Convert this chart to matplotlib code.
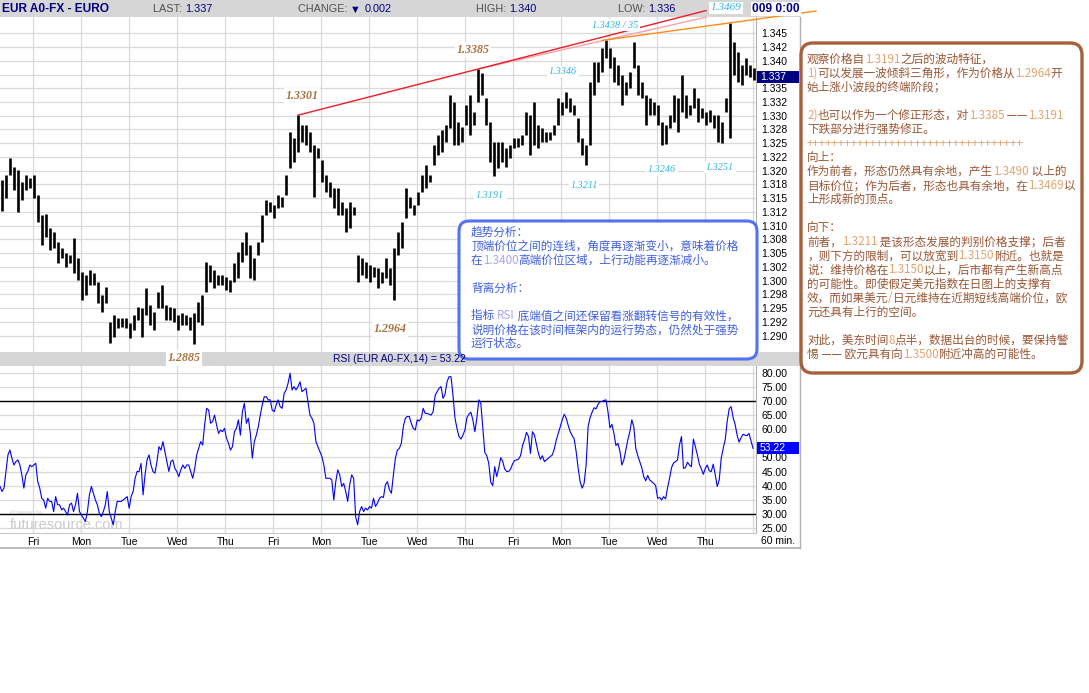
import re
import numpy as np
import matplotlib
matplotlib.use("Agg")
import matplotlib.pyplot as plt
from matplotlib.patches import Rectangle, FancyBboxPatch
from matplotlib.text import Annotation
import matplotlib.transforms as mtransforms

# ---------------- data ----------------
PRICE_HIGH = [1.3183, 1.3192, 1.3223, 1.3207, 1.3201, 1.3179, 1.3192, 1.3187, 1.3192, 1.3156,
              1.3119, 1.3121, 1.3096, 1.3088, 1.3070, 1.3059, 1.3050, 1.3046, 1.3077, 1.3041,
              1.3016, 1.3010, 1.3019, 1.3014, 1.2997, 1.2974, 1.2988, 1.2925, 1.2937, 1.2932,
              1.2932, 1.2932, 1.2923, 1.2937, 1.2952, 1.2950, 1.2986, 1.2955, 1.2943, 1.2979,
              1.2992, 1.2955, 1.2952, 1.2950, 1.2937, 1.2941, 1.2937, 1.2934, 1.2941, 1.2961,
              1.2974, 1.3034, 1.3028, 1.3019, 1.3010, 1.3010, 1.3006, 1.3001, 1.3032, 1.3052,
              1.3070, 1.3088, 1.3065, 1.3041, 1.3070, 1.3119, 1.3147, 1.3143, 1.3138, 1.3156,
              1.3152, 1.3192, 1.3270, 1.3259, 1.3301, 1.3283, 1.3283, 1.3270, 1.3247, 1.3241,
              1.3219, 1.3192, 1.3179, 1.3168, 1.3168, 1.3143, 1.3132, 1.3143, 1.3134, 1.3046,
              1.3041, 1.3034, 1.3028, 1.3025, 1.3023, 1.3016, 1.3041, 1.3023, 1.3059, 1.3088,
              1.3107, 1.3168, 1.3152, 1.3138, 1.3161, 1.3192, 1.3210, 1.3192, 1.3247, 1.3265,
              1.3274, 1.3283, 1.3338, 1.3325, 1.3289, 1.3280, 1.3320, 1.3338, 1.3307, 1.3385,
              1.3378, 1.3332, 1.3289, 1.3252, 1.3252, 1.3252, 1.3241, 1.3247, 1.3259, 1.3259,
              1.3265, 1.3307, 1.3301, 1.3325, 1.3283, 1.3278, 1.3270, 1.3270, 1.3283, 1.3332,
              1.3325, 1.3343, 1.3332, 1.3320, 1.3296, 1.3259, 1.3247, 1.3361, 1.3398, 1.3398,
              1.3423, 1.3438, 1.3423, 1.3407, 1.3392, 1.3374, 1.3361, 1.3380, 1.3435, 1.3392,
              1.3361, 1.3338, 1.3332, 1.3325, 1.3320, 1.3289, 1.3283, 1.3301, 1.3338, 1.3332,
              1.3374, 1.3338, 1.3320, 1.3350, 1.3332, 1.3314, 1.3307, 1.3310, 1.3301, 1.3301,
              1.3289, 1.3332, 1.3469, 1.3434, 1.3416, 1.3392, 1.3405, 1.3392, 1.3387]
PRICE_LOW = [1.3127, 1.3150, 1.3192, 1.3165, 1.3125, 1.3147, 1.3165, 1.3168, 1.3150, 1.3107,
             1.3065, 1.3079, 1.3056, 1.3059, 1.3032, 1.3041, 1.3025, 1.3032, 1.3014, 1.3001,
             1.2965, 1.2974, 1.2992, 1.2992, 1.2959, 1.2943, 1.2959, 1.2886, 1.2897, 1.2914,
             1.2915, 1.2914, 1.2895, 1.2910, 1.2928, 1.2897, 1.2937, 1.2919, 1.2910, 1.2950,
             1.2950, 1.2928, 1.2928, 1.2925, 1.2910, 1.2919, 1.2919, 1.2910, 1.2885, 1.2925,
             1.2919, 1.2979, 1.2997, 1.2986, 1.2992, 1.2992, 1.2983, 1.2979, 1.2997, 1.3005,
             1.3034, 1.3046, 1.3005, 1.3001, 1.3046, 1.3070, 1.3119, 1.3125, 1.3114, 1.3132,
             1.3134, 1.3156, 1.3205, 1.3216, 1.3234, 1.3252, 1.3247, 1.3234, 1.3152, 1.3223,
             1.3179, 1.3161, 1.3152, 1.3132, 1.3119, 1.3119, 1.3088, 1.3096, 1.3119, 1.2997,
             1.3010, 1.3005, 1.2997, 1.3006, 1.2986, 1.2996, 1.3005, 1.2992, 1.2964, 1.3046,
             1.3059, 1.3114, 1.3132, 1.3119, 1.3138, 1.3161, 1.3168, 1.3179, 1.3210, 1.3228,
             1.3234, 1.3252, 1.3278, 1.3247, 1.3247, 1.3252, 1.3283, 1.3265, 1.3283, 1.3325,
             1.3338, 1.3283, 1.3216, 1.3191, 1.3205, 1.3216, 1.3207, 1.3223, 1.3241, 1.3243,
             1.3247, 1.3265, 1.3228, 1.3247, 1.3241, 1.3252, 1.3252, 1.3256, 1.3265, 1.3283,
             1.3301, 1.3314, 1.3307, 1.3301, 1.3252, 1.3228, 1.3211, 1.3247, 1.3338, 1.3361,
             1.3380, 1.3405, 1.3387, 1.3361, 1.3356, 1.3320, 1.3338, 1.3350, 1.3387, 1.3338,
             1.3332, 1.3283, 1.3301, 1.3301, 1.3283, 1.3246, 1.3248, 1.3278, 1.3289, 1.3270,
             1.3307, 1.3296, 1.3301, 1.3314, 1.3289, 1.3296, 1.3283, 1.3289, 1.3278, 1.3252,
             1.3251, 1.3307, 1.3259, 1.3374, 1.3361, 1.3356, 1.3374, 1.3370, 1.3365]

RSI = [39.7, 37.9, 39.1, 45.0, 50.9, 52.6, 49.7, 47.3, 48.5, 49.1, 47.3, 43.8, 39.1, 43.8, 45.0, 47.3, 46.7, 47.3, 47.9, 41.4,
       39.1, 35.5, 34.9, 32.0, 35.5, 34.4, 34.4, 30.8, 36.1, 33.2, 33.2, 31.4, 32.0, 30.8, 29.6, 33.2, 33.8, 30.8, 33.2, 37.3,
       30.8, 29.6, 28.4, 27.3, 30.8, 36.7, 39.7, 37.3, 34.9, 33.2, 30.2, 29.0, 30.8, 33.2, 37.9, 30.8, 28.4, 26.1, 30.8, 34.4,
       34.4, 34.4, 34.9, 35.5, 36.1, 32.0, 36.1, 37.9, 42.6, 45.0, 45.0, 47.9, 36.7, 43.8, 49.1, 50.9, 47.3, 45.0, 44.4, 48.5,
       53.8, 52.6, 55.6, 52.0, 48.5, 45.0, 48.5, 49.1, 46.1, 45.0, 43.2, 45.6, 47.3, 46.1, 47.3, 47.3, 45.0, 42.6, 46.1, 50.9,
       53.2, 55.6, 54.4, 61.5, 67.4, 66.8, 62.1, 62.7, 65.0, 61.5, 58.5, 59.7, 59.1, 60.3, 56.8, 55.0, 52.6, 53.8, 59.1, 60.3,
       63.3, 57.9, 66.2, 69.2, 62.1, 63.9, 58.5, 49.7, 55.6, 57.9, 60.9, 65.0, 68.6, 71.5, 71.5, 70.4, 70.4, 66.8, 66.2, 68.6,
       70.4, 68.0, 67.4, 72.7, 73.9, 76.3, 79.8, 73.9, 75.1, 73.9, 75.1, 76.8, 73.3, 73.9, 74.5, 69.8, 65.0, 63.9, 62.1, 55.6,
       53.8, 52.0, 50.3, 47.3, 42.6, 42.6, 42.6, 42.0, 34.9, 41.4, 45.6, 43.8, 39.7, 40.8, 37.9, 34.4, 40.3, 43.8, 42.6, 29.0,
       26.1, 30.8, 32.6, 30.8, 32.0, 31.4, 32.6, 32.0, 35.5, 32.6, 33.8, 35.5,
       36.1, 35.8, 40.3, 41.4, 38.5, 37.3, 43.8, 49.7, 52.6, 53.2, 55.0, 60.9, 63.9, 64.5, 64.5, 62.1, 60.3, 59.7, 63.3, 62.9,
       63.9, 67.4, 65.6, 65.6, 65.3, 65.0, 66.2, 71.9, 73.3, 74.5, 75.1, 70.9, 72.4, 76.8, 78.6, 78.6, 72.1, 63.9, 60.3, 57.4,
       56.5, 57.9, 59.7, 64.1, 65.3, 66.0, 63.3, 59.1, 63.9, 70.4, 69.2, 60.3, 51.8, 50.6, 47.9, 41.2, 40.0, 46.7, 43.2, 46.1,
       49.9, 48.7, 45.9, 45.0, 45.0, 45.9, 47.7, 48.9, 49.1, 49.4, 50.6, 54.2, 56.2, 58.9, 57.4, 51.4, 59.1, 57.9, 54.7, 51.4,
       49.3, 50.6, 48.5, 49.1, 49.7, 50.3, 50.9, 53.0, 56.2, 58.5, 60.9, 63.3, 65.3, 63.9, 61.3, 59.1, 57.7, 56.5, 52.0, 46.1,
       41.4, 39.1, 40.8, 47.3, 60.9, 64.1, 66.0, 67.6, 67.2, 68.8, 69.8, 69.8, 70.2, 70.4, 66.2, 60.5, 61.7, 58.5, 54.2, 55.0,
       52.3, 47.3, 49.1, 52.6, 56.2, 59.1, 63.3, 60.9, 53.2, 50.6, 48.5, 46.4, 43.2, 41.7, 43.6, 42.0, 41.4, 40.8, 40.0, 35.5,
       35.8, 34.9, 36.1, 35.3, 39.3, 42.6, 46.4, 48.0, 48.5, 49.1, 54.4, 57.4, 46.1, 46.4, 48.3, 47.3, 46.7, 56.5, 53.8, 50.9,
       47.6, 45.9, 44.0, 46.1, 47.3, 45.2, 45.0, 47.6, 43.8, 39.7, 42.0, 49.7, 53.2, 56.2, 62.7, 67.2, 68.0, 64.1, 61.7, 57.9,
       55.4, 57.0, 58.2, 57.9, 57.7, 58.5, 55.8, 53.22]

DAY_LABELS = ['Fri', 'Mon', 'Tue', 'Wed', 'Thu', 'Fri', 'Mon', 'Tue', 'Wed', 'Thu',
              'Fri', 'Mon', 'Tue', 'Wed', 'Thu']
PRICE_TICKS = [1.290, 1.2925, 1.295, 1.2975, 1.300, 1.3025, 1.305, 1.3075, 1.310, 1.3125,
               1.315, 1.3175, 1.320, 1.3225, 1.325, 1.3275, 1.330, 1.3325, 1.335, 1.3375,
               1.340, 1.3425, 1.345]
PRICE_TICK_LABELS = ['1.290', '1.292', '1.295', '1.298', '1.300', '1.302', '1.305', '1.308',
                     '1.310', '1.312', '1.315', '1.318', '1.320', '1.322', '1.325', '1.328',
                     '1.330', '1.332', '1.335', '', '1.340', '1.342', '1.345']
RSI_TICKS = [25, 30, 35, 40, 45, 50, 55, 60, 65, 70, 75, 80]
RSI_TICK_LABELS = ['25.00', '30.00', '35.00', '40.00', '45.00', '50.00', '', '60.00',
                   '65.00', '70.00', '75.00', '80.00']
LAST, CHANGE, HIGH, LOW = '1.337', '0.002', '1.340', '1.336'
LAST_VALUE = 1.337
RSI_LAST = 53.22

BLUE_LINES = [
    "趋势分析：",
    "顶端价位之间的连线，角度再逐渐变小，意味着价格",
    "在1.3400高端价位区域，上行动能再逐渐减小。",
    "",
    "背离分析：",
    "",
    "指标 RSI 底端值之间还保留看涨翻转信号的有效性，",
    "说明价格在该时间框架内的运行势态，仍然处于强势",
    "运行状态。",
]
BROWN_LINES = [
    "观察价格自1.3191之后的波动特征，",
    "1)可以发展一波倾斜三角形，作为价格从1.2964开",
    "始上涨小波段的终端阶段；",
    "",
    "2)也可以作为一个修正形态，对1.3385 ——1.3191",
    "下跌部分进行强势修正。",
    "+" * 34,
    "向上：",
    "作为前者，形态仍然具有余地，产生1.3490 以上的",
    "目标价位；作为后者，形态也具有余地，在1.3469以",
    "上形成新的顶点。",
    "",
    "向下：",
    "前者，1.3211 是该形态发展的判别价格支撑；后者",
    "，则下方的限制，可以放宽到1.3150附近。也就是",
    "说：维持价格在1.3150以上，后市都有产生新高点",
    "的可能性。即使假定美元指数在日图上的支撑有",
    "效，而如果美元/日元维持在近期短线高端价位，欧",
    "元还具有上行的空间。",
    "",
    "对此，美东时间8点半，数据出台的时候，要保持警",
    "惕 —— 欧元具有向1.3500附近冲高的可能性。",
]

# ---------------- figure ----------------
W, H = 1089, 693
fig = plt.figure(figsize=(W / 100, H / 100), dpi=100)
fig.patch.set_facecolor('white')
PX = mtransforms.Affine2D().scale(1 / W, -1 / H).translate(0, 1) + fig.transFigure


def fy(py):
    return 1 - py / H


CJK = ['Noto Sans CJK SC', 'DejaVu Sans']
SANS = ['Liberation Sans', 'DejaVu Sans']
SERIF = ['Liberation Serif', 'DejaVu Serif']
NAVY = '#000080'
GRID = '#d9d9d9'
BARGREY = '#d6d6d6'

# header / title bars / frame
fig.add_artist(Rectangle((0, 0), 800, 17, transform=PX, facecolor=BARGREY, edgecolor='none', zorder=-2))
fig.add_artist(Rectangle((0, 352), 800, 14, transform=PX, facecolor=BARGREY, edgecolor='none', zorder=-2))
fig.add_artist(plt.Line2D([800, 800], [17, 548], transform=PX, color='#b0b0b0', lw=1, zorder=-1))
fig.add_artist(plt.Line2D([0, 800], [548, 548], transform=PX, color='#b0b0b0', lw=1.2, zorder=-1))

DAY_POS = 16.65 + 24 * np.arange(16)

# ---------------- price panel ----------------
axp = fig.add_axes([0, fy(352), 756 / W, (352 - 17) / H])
hours = 1 + 2 * np.arange(len(PRICE_HIGH))
axp.vlines(hours, PRICE_LOW, PRICE_HIGH, color='black', lw=1.9, zorder=3)
axp.set_xlim(0, 378)
axp.set_ylim(1.28700, 1.34797)
axp.set_yticks(PRICE_TICKS)
axp.set_yticklabels(PRICE_TICK_LABELS)
axp.yaxis.tick_right()
axp.set_xticks(DAY_POS)
axp.set_xticklabels([])
axp.tick_params(axis='both', length=0)
axp.tick_params(axis='y', pad=4, labelsize=7.5)
for lab in axp.get_yticklabels():
    lab.set_family(SANS)
axp.grid(True, color=GRID, lw=0.9)
axp.set_axisbelow(True)
for s in axp.spines.values():
    s.set_visible(False)
axp.spines['right'].set_visible(True)
axp.spines['right'].set_color('#b0b0b0')

# trend lines through the marked peaks
def peak(i):
    return hours[i], PRICE_HIGH[i]

p1, p2, p3, p4 = peak(74), peak(119), peak(151), peak(182)

def line_through(a, b, x0, x1):
    s = (b[1] - a[1]) / (b[0] - a[0])
    return [x0, x1], [a[1] + s * (x0 - a[0]), a[1] + s * (x1 - a[0])]

xs, ys = line_through(p2, p3, p2[0], 353)
axp.plot(xs, ys, color='#f5a3ad', lw=1.0, clip_on=False, zorder=4)
xs, ys = line_through(p1, p2, p1[0], 353)
axp.plot(xs, ys, color='#ee1c24', lw=1.0, clip_on=False, zorder=5)
xs, ys = line_through(p3, p4, p3[0] - 2, 408)
axp.plot(xs, ys, color='#ff8c1a', lw=1.0, clip_on=False, zorder=5)

# last price box
bt = mtransforms.blended_transform_factory(axp.transAxes, axp.transData)
hpx = (1.34797 - 1.28700) / (352 - 17)
axp.add_patch(Rectangle((1.0015, LAST_VALUE - 6 * hpx), 42 / 756, 12 * hpx, transform=bt,
                        facecolor=NAVY, edgecolor='none', clip_on=False, zorder=6))
axp.text(1 + 4 / 756, LAST_VALUE, LAST, transform=bt, color='white', fontsize=7.5,
         family=SANS, va='center', ha='left', zorder=7, clip_on=False)

# ---------------- RSI panel ----------------
axr = fig.add_axes([0, fy(533), 756 / W, (533 - 366) / H])
axr.plot(np.linspace(0, 376.5, len(RSI)), RSI, color='#0000ff', lw=0.8, zorder=3)
axr.axhline(70, color='black', lw=1.0, zorder=2)
axr.axhline(30, color='black', lw=1.0, zorder=2)
axr.set_xlim(0, 378)
axr.set_ylim(23.2, 82.4)
axr.set_yticks(RSI_TICKS)
axr.set_yticklabels(RSI_TICK_LABELS)
axr.yaxis.tick_right()
axr.set_xticks(DAY_POS)
axr.set_xticklabels(DAY_LABELS + [''])
axr.tick_params(axis='both', length=0, labelsize=7.5)
axr.tick_params(axis='y', pad=4)
axr.tick_params(axis='x', pad=3)
for lab in axr.get_yticklabels() + axr.get_xticklabels():
    lab.set_family(SANS)
axr.grid(True, color=GRID, lw=0.9)
axr.set_axisbelow(True)
for s in axr.spines.values():
    s.set_visible(False)
axr.spines['right'].set_visible(True)
axr.spines['right'].set_color('#b0b0b0')
axr.spines['bottom'].set_visible(True)
axr.spines['bottom'].set_color('#c8c8c8')
bt2 = mtransforms.blended_transform_factory(axr.transAxes, axr.transData)
rpx = (82.4 - 23.2) / (533 - 366)
axr.add_patch(Rectangle((1.0015, RSI_LAST - 6 * rpx), 42 / 756, 12 * rpx, transform=bt2,
                        facecolor='#0000ff', edgecolor='none', clip_on=False, zorder=6))
axr.text(1 + 4 / 756, RSI_LAST, f'{RSI_LAST:.2f}', transform=bt2, color='white', fontsize=7.5,
         family=SANS, va='center', ha='left', zorder=7, clip_on=False)
axr.text(5, 24.6, 'futuresource.com', color='#cacaca', fontsize=10.5, family=SANS,
         va='baseline', ha='left', zorder=1)
axr.text(5, 29.6, 'Powered by', color='#d0d0d0', fontsize=4.5, family=SANS,
         va='bottom', ha='left', zorder=1)

fig.text(778, 541, '60 min.', transform=PX, fontsize=7.5, family=SANS, ha='center', va='center')

# ---------------- rich text helper ----------------
def rich(x, y, parts, size, family, zorder=6, weight='normal'):
    prev = None
    for s, c in parts:
        if prev is None:
            prev = fig.text(x, y, s, transform=PX, color=c, fontsize=size, family=family,
                            ha='left', va='baseline', zorder=zorder, weight=weight)
        else:
            a = Annotation(s, xy=(1, 0), xycoords=prev, color=c, fontsize=size, family=family,
                           ha='left', va='bottom', zorder=zorder, weight=weight)
            fig.add_artist(a)
            prev = a


ASCII_RUN = r'([0-9A-Za-z.)/+]+)'


def colored(line, base, light):
    out = []
    for tok in re.split(ASCII_RUN, line):
        if tok:
            out.append((tok, light if re.fullmatch(ASCII_RUN, tok) else base))
    return out


# header texts
fig.text(2, 9, 'EUR A0-FX - EURO', transform=PX, fontsize=8.6, weight='bold', family=SANS,
         color=NAVY, ha='left', va='center')
GREYT = '#505050'
rich(153, 12.5, [('LAST: ', GREYT), (LAST, NAVY)], 7.8, SANS)
rich(298, 12.5, [('CHANGE: ', GREYT), ('▼ ', NAVY), (CHANGE, NAVY)], 7.8, SANS)
rich(476, 12.5, [('HIGH: ', GREYT), (HIGH, NAVY)], 7.8, SANS)
rich(618, 12.5, [('LOW: ', GREYT), (LOW, NAVY)], 7.8, SANS)
fig.text(752, 9, '009 0:00', transform=PX, fontsize=8.6, weight='bold', family=SANS, color=NAVY,
         ha='left', va='center', zorder=6,
         bbox=dict(boxstyle='square,pad=0.1', facecolor='white', edgecolor='none'))

# price labels on chart
BROWN_L = '#a8703c'
CYAN_L = '#2fb3e6'
for txt, x, y, col, sz, wt in [
        ('1.3301', 302, 96, BROWN_L, 8.6, 'bold'),
        ('1.3385', 473, 50, BROWN_L, 8.6, 'bold'),
        ('1.2964', 390, 329, BROWN_L, 8.6, 'bold'),
        ('1.2885', 184, 358, BROWN_L, 8.6, 'bold'),
        ('1.3438 / 35', 615, 25, CYAN_L, 7.3, 'normal'),
        ('1.3346', 563, 72, CYAN_L, 7.3, 'normal'),
        ('1.3191', 490, 195, CYAN_L, 7.3, 'normal'),
        ('1.3211', 584, 186, CYAN_L, 7.3, 'normal'),
        ('1.3246', 662, 170, CYAN_L, 7.3, 'normal'),
        ('1.3251', 720, 167, CYAN_L, 7.3, 'normal'),
        ('1.3469', 726, 8, CYAN_L, 8.0, 'normal')]:
    fig.text(x, y, txt, transform=PX, color=col, fontsize=sz, style='italic', weight=wt,
             family=SERIF, ha='center', va='center', zorder=7,
             bbox=dict(boxstyle='square,pad=0.15', facecolor='white', edgecolor='none'))

# ---------------- blue analysis box ----------------
fig.add_artist(FancyBboxPatch((459, 221), 298, 138, boxstyle='round,pad=0,rounding_size=10',
                              transform=PX, facecolor='white', edgecolor='#5272ee', lw=2.2, zorder=5))
BLUE_T, BLUE_LT = '#3f5fe0', '#a6a6f2'
for i, line in enumerate(BLUE_LINES):
    if line:
        rich(471, 231.7 + 13.9 * i + 4.3, colored(line, BLUE_T, BLUE_LT), 8.4, CJK)

# RSI title (drawn above the box edge)
fig.text(399, 359, f'RSI (EUR A0-FX,14) = {RSI_LAST:.2f}', transform=PX, fontsize=7.5,
         family=SANS, color=NAVY, ha='center', va='center', zorder=8)

# ---------------- brown commentary box ----------------
fig.add_artist(FancyBboxPatch((801, 43), 281, 330, boxstyle='round,pad=0,rounding_size=12',
                              transform=PX, facecolor='white', edgecolor='#a5603c', lw=2.4, zorder=5))
BROWN_T, BROWN_LT = '#9a5634', '#e2a470'
for i, line in enumerate(BROWN_LINES):
    if line:
        rich(807, 58.3 + 14.05 * i + 4.3, colored(line, BROWN_T, BROWN_LT), 8.4, CJK)

fig.savefig('out.png', dpi=100, facecolor='white')
